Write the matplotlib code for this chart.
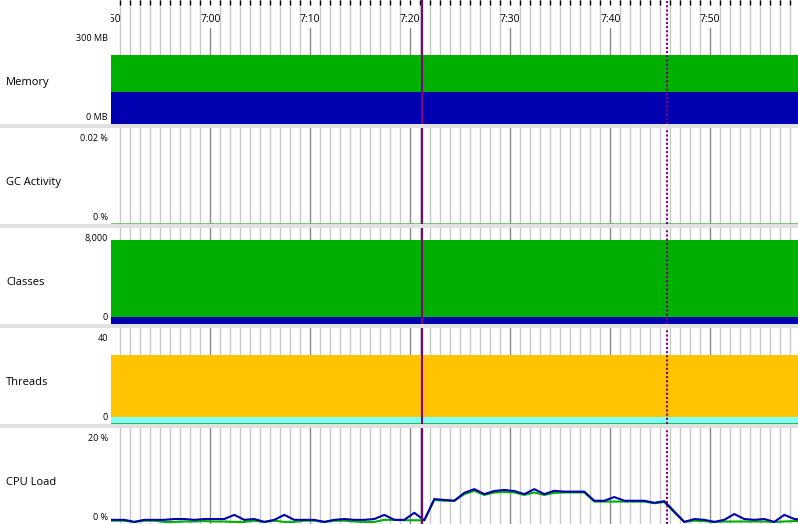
import numpy as np
import matplotlib
matplotlib.use('Agg')
from matplotlib import pyplot as plt
from matplotlib.patches import Rectangle
from matplotlib.ticker import MultipleLocator

plt.rcParams['font.family'] = ['Open Sans', 'DejaVu Sans']

# ---- data (time in minutes since midnight) ----
t_start = 6 * 60 + 49.4          # first sample 6:49:24, one sample per minute
x_min, x_max = 410.07, 478.77    # visible range
marker_solid = 441.12            # 7:21:07
marker_dotted = 465.64           # 7:45:38

mem_committed = 249   # MB
mem_used = 116
classes_loaded = 8096
classes_unloaded = 675
threads_live = 33.3
threads_daemon = 3.4

cpu_blue = [1.0, 1.0, 1.0, 0.5, 1.0, 1.0, 1.0, 1.2, 1.2, 1.0,
            1.2, 1.2, 1.2, 2.2, 1.0, 1.2, 0.5, 1.0, 2.2, 1.0,
            1.0, 1.0, 0.5, 1.0, 1.2, 1.0, 1.0, 1.2, 2.2, 1.0,
            1.0, 2.7, 0.9, 6.0, 5.8, 5.6, 7.5, 8.4, 7.2, 7.95,
            8.2, 7.95, 7.2, 8.4, 7.2, 8.0, 7.8, 7.8, 7.8, 5.6,
            5.6, 6.5, 5.6, 5.6, 5.6, 5.1, 5.5, 3.0, 0.5, 1.2,
            1.0, 0.5, 1.0, 2.4, 1.2, 1.0, 1.2, 0.5, 2.2, 1.2, 1.0]
cpu_green = [0.8, 0.8, 0.8, 0.5, 0.8, 0.8, 0.5, 0.5, 0.6, 0.6,
             0.7, 0.6, 0.6, 0.5, 0.5, 0.8, 0.5, 0.8, 0.5, 0.5,
             0.8, 0.8, 0.5, 0.8, 0.8, 0.6, 0.5, 0.5, 1.0, 1.0,
             0.9, 0.9, 0.9, 5.8, 5.6, 5.6, 7.2, 8.0, 7.0, 7.6,
             7.7, 7.6, 7.0, 7.6, 7.0, 7.5, 7.6, 7.6, 7.6, 5.4,
             5.4, 5.4, 5.4, 5.4, 5.4, 5.0, 5.3, 2.8, 0.5, 0.8,
             0.7, 0.5, 0.6, 0.6, 0.6, 0.6, 0.6, 0.5, 0.6, 0.7, 0.7]
times = t_start + np.arange(len(cpu_blue))

panels = ['Memory', 'GC Activity', 'Classes', 'Threads', 'CPU Load']
top_labels = ['300 MB', '0.02 %', '8,000', '40', '20 %']
bottom_labels = ['0 MB', '0 %', '0', '0', '0 %']
top_values = [300, 0.02, 8000, 40, 20]

# colours
GREEN = '#00b000'
BLUE = '#0000b0'
ORANGE = '#ffc300'
CYAN = '#80ffff'
PURPLE = '#800080'
SEP = '#e1e1e1'
MINOR = '#c8c8c8'
MAJOR = '#8a8a8a'

W, H = 798, 524
fig = plt.figure(figsize=(W / 100, H / 100), dpi=100)
fig.patch.set_facecolor('white')

LEFT = 111

def rect(top, bottom):
    return [LEFT / W, 1 - bottom / H, (W - LEFT) / W, (bottom - top) / H]

def style_grid(ax):
    ax.set_xlim(x_min, x_max)
    ax.xaxis.set_major_locator(MultipleLocator(10))
    ax.xaxis.set_minor_locator(MultipleLocator(1))
    ax.grid(which='minor', axis='x', color=MINOR, lw=1)
    ax.grid(which='major', axis='x', color=MAJOR, lw=1)
    ax.tick_params(which='both', length=0, labelbottom=False, labelleft=False)
    ax.set_yticks([])
    for s in ax.spines.values():
        s.set_visible(False)
    ax.set_axisbelow(True)

# header with time axis
hdr = fig.add_axes(rect(0, 28))
hdr.set_xlim(x_min, x_max)
hdr.set_ylim(28, 0)
for s in hdr.spines.values():
    s.set_visible(False)
hdr.set_yticks([])
hdr.xaxis.set_major_locator(MultipleLocator(10))
hdr.xaxis.set_minor_locator(MultipleLocator(1))
hdr.xaxis.tick_top()
hdr.tick_params(which='both', direction='in', length=3.8, width=1, color='black',
                labeltop=False, labelbottom=False)
hdr.grid(which='minor', axis='x', color=MINOR, lw=1)
for m in np.arange(410, 480, 10):
    hdr.text(m, 21.7, '%d:%02d' % (m // 60, m % 60), ha='center', va='baseline',
             fontsize=7.5, clip_on=True)

tops = [28, 128, 228, 328, 428]
axes = []
for i, T in enumerate(tops):
    B = T + 96
    ax = fig.add_axes(rect(T, B))
    style_grid(ax)
    ax.set_ylim(0, top_values[i] * 96 / 83)
    axes.append(ax)
    fig.text(6 / W, 1 - (T + 57) / H, panels[i], fontsize=8, va='baseline')
    fig.text(108 / W, 1 - (T + 13) / H, top_labels[i], fontsize=6.5,
             ha='right', va='baseline')
    fig.text(108 / W, 1 - (B - 4.5) / H, bottom_labels[i], fontsize=6.5,
             ha='right', va='baseline')
    # separator bar under panel
    if i < 4:
        fig.add_artist(Rectangle((0, 1 - (B + 4) / H), 1, 4 / H,
                                 transform=fig.transFigure, color=SEP, lw=0))

ax_mem, ax_gc, ax_cls, ax_thr, ax_cpu = axes

ax_mem.fill_between(times, 0, mem_committed, color=GREEN, lw=0)
ax_mem.fill_between(times, 0, mem_used, color=BLUE, lw=0)

ax_gc.axhline(0, color='#4cbb4c', lw=1.8)

ax_cls.fill_between(times, 0, classes_loaded, color=GREEN, lw=0)
ax_cls.fill_between(times, 0, classes_unloaded, color=BLUE, lw=0)

ax_thr.fill_between(times, 0, threads_live, color=ORANGE, lw=0)
ax_thr.fill_between(times, 0, threads_daemon, color=CYAN, lw=0)
ax_thr.axhline(0, color=GREEN, lw=1.8)

ax_cpu.plot(times, cpu_green, color=GREEN, lw=1.5)
ax_cpu.plot(times, cpu_blue, color=BLUE, lw=1.5)

# marker lines across all panels
ov = fig.add_axes(rect(0, H))
ov.set_xlim(x_min, x_max)
ov.axis('off')
ov.patch.set_alpha(0)
ov.axvline(marker_solid, color=PURPLE, lw=1.5)
ov.axvline(marker_dotted, color=PURPLE, lw=1.5, linestyle=(0, (1, 1)))

fig.savefig('out.png', dpi=100)
